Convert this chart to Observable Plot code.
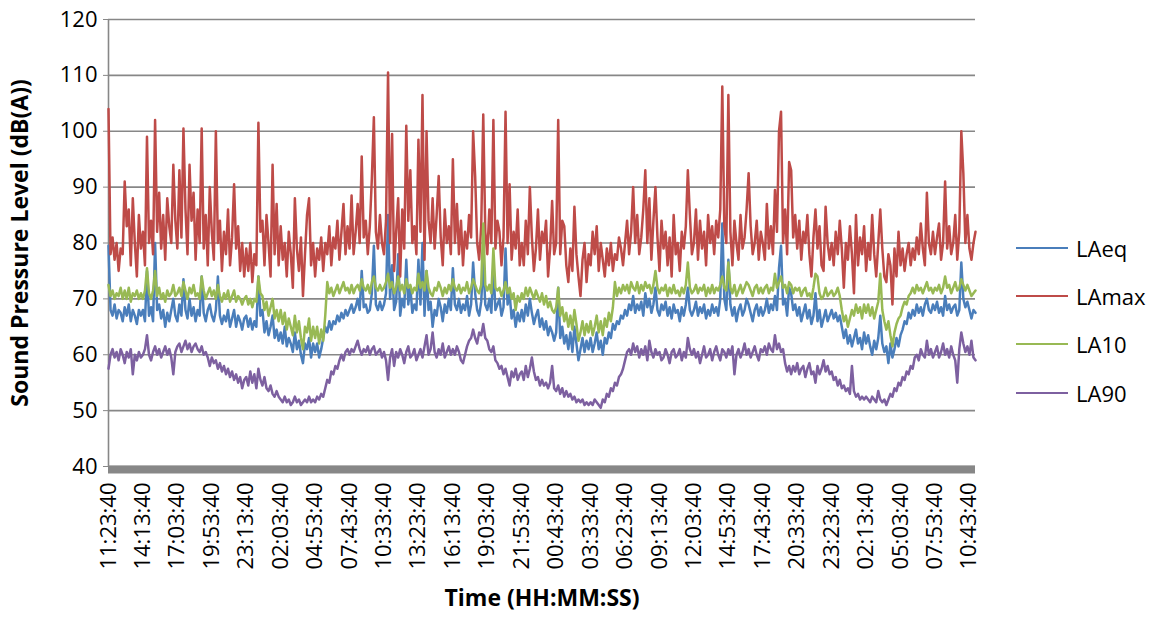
<!DOCTYPE html>
<html>
<head>
<meta charset="utf-8">
<script src="https://cdn.jsdelivr.net/npm/d3@7"></script>
<script src="https://cdn.jsdelivr.net/npm/@observablehq/plot@0.6"></script>
<style>
  body { margin: 0; background: #fff; font-family: "Open Sans", sans-serif; }
  #wrap { position: relative; width: 1154px; height: 621px; }
  .item { position: absolute; left: 1016px; height: 30px; display: flex; align-items: center; font-size: 22px; color: #000; }
  .sw { width: 52px; height: 2.5px; margin-right: 8px; }
</style>
</head>
<body>
<div id="wrap"></div>
<script>
const timeLabels = ["11:23:40","14:13:40","17:03:40","19:53:40","23:13:40","02:03:40","04:53:40","07:43:40","10:33:40","13:23:40","16:13:40","19:03:40","21:53:40","00:43:40","03:33:40","06:23:40","09:13:40","12:03:40","14:53:40","17:43:40","20:33:40","23:23:40","02:13:40","05:03:40","07:53:40","10:43:40"];
const yTicks = [40,50,60,70,80,90,100,110,120];

const LAeq = [
79.5,68,67,69,66.5,68,67.5,66,68.5,67,69,66,68,67,65.5,68,67,
68,66,75,67,68.5,66,80,68,69,66.5,68,65,67.5,66,68,70,67,
66,69,67,73.5,68,66.5,70,67,68.5,66,68,67,74,67.5,66,68,69,
67,66,68,74,67,65.5,67,66,68,65,66.5,68,65,67,66,64.5,66.5,
67,65,66.5,64.5,66,65,74,67,68,64,66,63.5,65,67,63,64.5,62.5,
64,62,65,61.5,63,62,60.5,64,61,62.5,60,58.5,62,61,63,59.5,62,
60.5,62,59.5,61,63,65,64,66,64.5,66,65.5,67,66,67.5,66.5,68,67,
68,69,67.5,68.5,70,68,75,68.5,69,67.5,68,71,79.5,69,68,69.5,68,
69,71,85,70,76,68,69.5,78,67,70,68.5,77,69,72,67.5,69,68,
77,69,80,67,75,68,69.5,65,68,67,70,68.5,66,69,67.5,70,68,
75.5,69,68,70,67.5,69,68,70.5,67,69,76.5,71,68,67,69.5,77,69,
68,70,67.5,76,68,69,70,67,68.5,79,69,71,66.5,68,65,67.5,66,
68,66,69,67,70,67.5,65.5,67,68,65,66.5,64.5,66,63.5,65,64,62.5,
64,72,63,65,62,63.5,61,64,60.5,65,62,59,61,63,60.5,62.5,61,
63,60.5,62,64,61,62.5,60,63,62,64,63,65.5,64.5,66,65.5,67,66.5,
68,67,69,68,70.5,67.5,69,68,69.5,67,71,68.5,70,67.5,69,72,68,
67,69,68,69.5,67,68.5,66.5,69,67.5,68,66,68.5,67,69,72,68,67,
68,69.5,67,68.5,67.5,69,66.5,68,67,69,67.5,68.5,67,70,83.5,70,68,
77,69,67,68.5,66,68,69,67,68,70,69,67.5,66,68,69,67,68.5,
67,68,70,67.5,69,68,70.5,68,75.5,79.5,69,70,67,72,71,68,69,
67,68.5,66,67.5,69,66.5,68,65.5,67,71,66,68,65,66.5,68,66,67,
68,66.5,67.5,66,67,65,63,64.5,62,63.5,61.5,63,64.5,62,63,61,64,
62,63.5,61.5,60,62.5,61,63,67,62,60.5,61.5,58.5,62,59.5,61,63,61.5,
63.5,64.5,66,65.5,67.5,66.5,68,67,69,67.5,68.5,67,69,70,68,67.5,69,
68,69.5,67.5,68.5,67,70.5,68,69,67.5,68.5,69,67,68,76.5,70,68.5,69.5,
68,66.5,68,67.5
];

const LAmax = [
104,78,81,77,80,75,79,78,91,83,86,76,88,80,74,85,79,
82,76,99,80,84,78,102,82,89,79,85,77,88,83,80,94,84,
79,93,81,100.5,86,78,94,84,89,77,86,80,100.5,79,85,76,90,
82,77,100,80,84,75,82,78,86,76,81,90.5,79,83,75,80,74,
79,75,80,73,78,76,101.5,82,84,76,85,80,74,94,78,87,76,
83,77,80,74,82,78,72,88,79,75,81,70.5,78,85,88,76,80,
74,79,77,81,75,80,78,83,76,81,79,84,77,82,87,78,83,
79,88.5,78,82,87,80,95.5,81,84,78,83,91.5,102.5,82,79,85,80,
78,84,110.5,80,99.5,75,82,88,74,86,79,101,84,93,80,83,78,
98.5,82,106.5,77,100,84,80,88,79,85,92,81,76,86,80,83,78,
95,80,87,78,84,76,82,79,85,81,100,92,80,77,83,103,82,
78,86,80,102,79,84,82,76,81,103.5,80,90.5,77,82,79,86,76,
80,76,84,78,90,81,75,79,86,77,82,80,84,74,79,87.5,78,
80,102,78,84,83,76,73,79,75,86.5,78,74,70.5,77,80,73,78,
76,82,78,83,75,80,77,74,79,76,80,75,78,77,81,79,76,
80,84,78,82,90,80,85,78,81,86,93,80,88,77,84,90,81,
75,84,79,82,76,81,74,85,78,80,75,82,79,83,93,85,78,
80,86,77,84,79,82,76,85,80,83,78,84,81,86,108,83,80,
106.5,82,76,84,80,77,85,79,81,86,92.5,83,78,80,84,77,82,
80,77,87,79,83,78,89.5,82,100,103.5,80,86,78,94.5,93,81,85,
79,84,77,82,80,85,78,74,81,86,79,83,76,75,86.5,80,77,
80,76,82,78,84,79,72,80,77,83,78,71,85,76,81,78,83,
75,80,77,85,78,74,80,86,79,74,73,78,76,69,79,74,82,
76,79,75,78,80,76,79,77,81,78,83.5,79,76,89,80,78,82,
78,81,83.5,77,80,91,79,83,78,80,85,77,82,100,92.5,80,85,
79,77,80,82
];

const LA10 = [
72.5,70.5,71.5,70,71,70.5,72,70,71.5,70,72,69.5,71,70.5,71.5,70,71,
70,71.5,75.5,71,70,71.5,75,70.5,72,70,71,69.5,71.5,70.5,71,72.5,70.5,
71,72,70.5,73,71.5,70,72,71,72.5,70.5,71,70,74,71.5,70,71,72,
70.5,71.5,70,72.5,70.5,69.5,71,70,71.5,69.5,70.5,71.5,69.5,70.5,70,69,70,
70.5,69,70,68.5,70,69.5,74,71,70.5,68,69.5,67,68.5,70,66.5,68,66,
68,65.5,67.5,64.5,66.5,65,63.5,67,64,66,63,61,65,64,66.5,62.5,65,
63,65,62,64.5,62.5,67,73,71,72,70.5,71.5,72.5,71,72,73,71.5,72,
71,72.5,71,72,72.5,71.5,73.5,72,71.5,72.5,71,73,74,72,71.5,72.5,71.5,
72,73,74.5,72,73,71,72,74,71.5,72.5,71,73.5,72,72.5,71,72,71.5,
74.5,72,73,71.5,75,72,71,70.5,72,71.5,73,72,70.5,72,71,72.5,71.5,
73.5,72,71.5,72.5,71,72,71.5,73,71,72,73.5,72.5,71.5,71,72.5,83.5,72.5,
71.5,72.5,71,79,72,71.5,72,70.5,71.5,73,71,72,70,71,68,70.5,69.5,
71,70,72,70.5,72,71,70,71.5,70.5,69.5,71,69,70.5,68.5,69.5,68,67.5,
68.5,72,67,68.5,66,67.5,65,67,64.5,68,65.5,62.5,64,66,63.5,65.5,64,
66,63.5,65,67,64,66,63.5,66.5,65,67.5,66,68.5,73,70.5,72,71,72.5,
71.5,72.5,71,73,72,71.5,73,71,72.5,71.5,73,72,72.5,71,72.5,75,72,
71,72,71.5,72.5,70.5,72,71,72.5,71,71.5,70.5,72,71,72.5,76.5,72,71,
71.5,72.5,71,72,71.5,72.5,70.5,72,71,72.5,71,72,71.5,72.5,74,72,71.5,
76.5,72,71,72.5,70.5,71.5,72.5,71,72,73,72.5,71.5,70.5,72,72.5,71,72,
71,72,72.5,71,72,71.5,74.5,72,73,74,72,72.5,71,73,72.5,71,72,
71.5,72,70.5,71.5,72,70.5,71,70,72,74.5,74,71,70,70.5,72,70.5,71,
71.5,70.5,71,72,70.5,68,66,67,65,66.5,68,67,69,67.5,68.5,66.5,69,
67.5,69,67,68.5,66.5,68,69.5,74.5,68,66,64.5,66,63.5,61.5,64,65.5,66.5,
67,68.5,69.5,69,70.5,71,72,71,72.5,71.5,72,71,72,73,71.5,72,71,
72,71.5,72.5,71,72,74,72,72.5,71,72,73,71.5,72,73.5,72.5,71.5,72.5,
71.5,70.5,71,71.5
];

const LA90 = [
57.5,60,61,59.5,60.5,59,61,60,58.5,60.5,59.5,61,56.5,60,59,60.5,59.5,
60,61,63.5,60,59,60.5,61.5,60,61,59.5,60.5,61.5,60,61,59.5,56.5,60.5,
61.5,62,60.5,61.5,62.5,61,62,60.5,61.5,62,61,60.5,61.5,60,60.5,59.5,58,
59.5,58.5,59,57.5,58.5,57,58,56.5,57.5,56,57,55.5,56.5,55,56,54,55.5,
56,54.5,57,55,56.5,54,57.5,55.5,54.5,56,54,53.5,54.5,53,52.5,53.5,52.5,
52,51.5,52.5,51.5,52,51,51.5,52.5,51.5,52,51,51.5,52,51.5,52.5,51.5,52,
51.5,52.5,52,53,52.5,54,55.5,55,57,56.5,58,57.5,59,60,59,60.5,61,
60,61,60.5,61.5,62.5,61,60,61,60.5,61.5,60,61,61.5,60,60.5,61,59.5,
60.5,59,55.5,59.5,61,58,60.5,59.5,61,60,58.5,60.5,61.5,59.5,60,61,59,
60,61,59.5,61.5,63.5,60,61,64,60.5,59.5,61,60,62,59.5,60.5,61.5,60,
61,60,61.5,60.5,59,58.5,60,61.5,62.5,63,64.5,63,62,64,63.5,65.5,63,
62.5,61,60.5,61.5,59,58.5,57.5,58,56.5,57.5,56,54.5,57,56,57.5,55.5,56.5,
57,55.5,58,56,57.5,59.5,57,55.5,56,54.5,55.5,54.5,55,54,55,58,54,
53.5,54.5,53,54,52.5,53.5,52.5,53,52,52.5,51.5,52,51.5,52,51,51.5,51,
51.5,51,52,51.5,51,50.5,52,51.5,53,52.5,54,53.5,55,54.5,56,56.5,57.5,
59,60.5,61,60,62,60.5,61.5,59.5,61,60,61.5,59,62.5,60.5,59.5,61,60,
60.5,59,59.5,61,60,58.5,60.5,61,59.5,60,61,59,60.5,59.5,63,61,60,
61,59.5,60.5,58.5,60,61.5,59.5,60,61,59,60.5,61.5,60,59,61,60.5,59.5,
61,60,61.5,56.5,60,61,59.5,60.5,62,60,61,59.5,60.5,61.5,60,59,61,
60.5,61.5,60,62,61,60.5,63.5,61,62,60.5,61,58.5,57,58,56.5,58,57,
58.5,56.5,57.5,58,56,57.5,58.5,56.5,57,55,58,56.5,57.5,59,57,58,56.5,
57,55.5,56,54.5,55.5,54,54.5,53.5,54,53,58,53.5,52.5,53,52,52.5,52,
52.5,52,51.5,52.5,52,51.5,53.5,52,51.5,52,51,52,53,52.5,54,53.5,55,
54.5,56,55.5,57,56.5,58,57.5,59.5,60,59,61,60,59.5,62.5,60,61,59.5,
60.5,61.5,59.5,60.5,62,60,61,59.5,61.5,60,59,55,61,64,62,60.5,61.5,
60,62.5,59.5,59
];

const seriesNames = ["LAeq","LAmax","LA10","LA90"];
const seriesColors = ["#4A7EBB","#BE4B48","#98B954","#7D60A0"];
const seriesValues = [LAeq, LAmax, LA10, LA90];

const rows = seriesValues.flatMap((vals, s) => vals.map((v, i) => ({series: seriesNames[s], i, v})));
const step = 17;
const tickIdx = timeLabels.map((_, k) => k * step);
const lastIndex = Math.max(...seriesValues.map(v => v.length)) - 1;

const grey = "#878787";
const chart = Plot.plot({
  width: 1154,
  height: 621,
  marginLeft: 108,
  marginRight: 179,
  marginTop: 19,
  marginBottom: 155,
  style: {fontFamily: '"Open Sans", sans-serif', fontSize: "22px", color: "#000", background: "#fff", overflow: "visible"},
  x: {domain: [0, lastIndex]},
  y: {domain: [40, 120]},
  color: {domain: seriesNames, range: seriesColors},
  marks: [
    Plot.gridY({ticks: yTicks, stroke: grey, strokeOpacity: 1, strokeWidth: 1.6}),
    Plot.ruleX([0], {stroke: grey, strokeWidth: 1.6}),
    Plot.axisY({ticks: yTicks, tickSize: 5, tickPadding: 6, stroke: grey, fill: "#000", fontSize: 22, label: null}),
    Plot.axisX({ticks: tickIdx, tickFormat: d => timeLabels[Math.round(d / step)], tickRotate: -90, tickSize: 0, tickPadding: 16, fill: "#000", fontSize: 22, label: null}),
    Plot.lineY(rows, {x: "i", y: "v", z: "series", stroke: "series", strokeWidth: 2.5, strokeLinejoin: "round"}),
    Plot.ruleY([40], {stroke: grey, strokeWidth: 8, dy: 3}),
    Plot.text(["Time (HH:MM:SS)"], {frameAnchor: "bottom", dy: 139, fontWeight: "bold", fontSize: 23, fill: "#000"}),
    Plot.text(["Sound Pressure Level (dB(A))"], {frameAnchor: "left", textAnchor: "middle", rotate: -90, dx: -88, fontWeight: "bold", fontSize: 23, fill: "#000"})
  ]
});
const wrap = document.getElementById("wrap");
wrap.appendChild(chart);

const legendY = [248, 296, 344, 393];
seriesNames.forEach((name, k) => {
  const item = document.createElement("div");
  item.className = "item";
  item.style.top = (legendY[k] - 15) + "px";
  const sw = document.createElement("span");
  sw.className = "sw";
  sw.style.background = seriesColors[k];
  item.appendChild(sw);
  item.appendChild(document.createTextNode(name));
  wrap.appendChild(item);
});
</script>
</body>
</html>
